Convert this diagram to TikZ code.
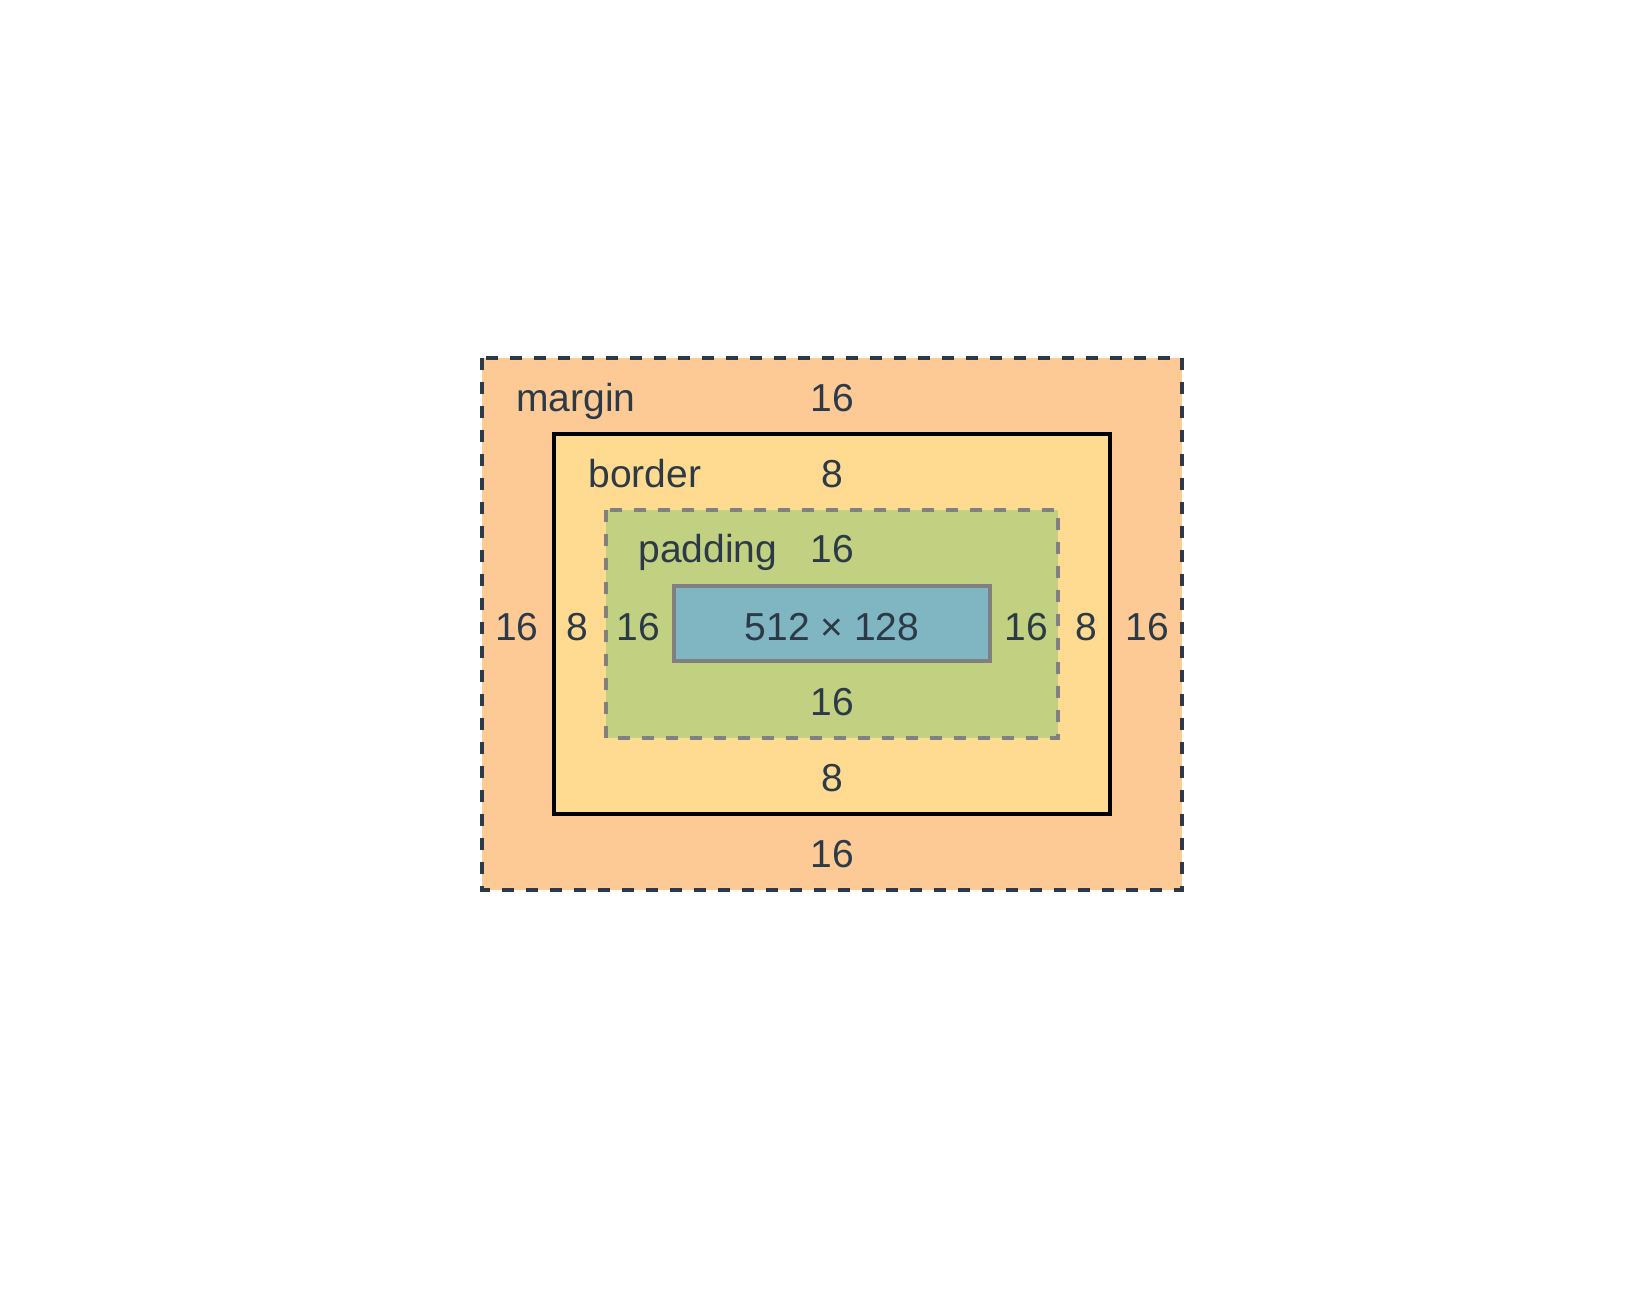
\documentclass[tikz,border=0pt]{standalone}
\usepackage{fontspec}
\setmainfont{Liberation Sans}
\definecolor{marginc}{HTML}{FDCA96}
\definecolor{borderc}{HTML}{FFDB91}
\definecolor{paddingc}{HTML}{C1D081}
\definecolor{contentc}{HTML}{80B5C2}
\definecolor{txt}{HTML}{2C3A47}
\definecolor{grayline}{HTML}{808080}
\begin{document}
\begin{tikzpicture}[x=0.5pt,y=-0.5pt,
  marginbox/.style={fill=marginc,draw=txt,line width=2pt,dash pattern=on 6pt off 6pt},
  borderbox/.style={fill=borderc,draw=black,line width=2pt},
  paddingbox/.style={fill=paddingc,draw=grayline,line width=2pt,dash pattern=on 6pt off 6pt},
  contentbox/.style={fill=contentc,draw=grayline,line width=2pt},
  lbl/.style={inner sep=0pt,text=txt,font=\fontsize{19.5pt}{23pt}\selectfont}]
\useasboundingbox (0,0) rectangle (1644,1312);
\fill[white] (0,0) rectangle (1644,1312);
\draw[marginbox] (482,358) rectangle (1182,890);
\draw[borderbox] (554,434) rectangle (1110,814);
\draw[paddingbox] (606,510) rectangle (1058,738);
\draw[contentbox] (674,586) rectangle (990,661);
% labels
\node[lbl,anchor=base west] (lmargin) at (516,411) {margin};
\node[lbl,anchor=base west] (lborder) at (588,487) {border};
\node[lbl,anchor=base west] (lpadding) at (638,562) {padding};
\node[lbl,anchor=base] (mt) at (832,411) {16};
\node[lbl,anchor=base] (bt) at (832,487) {8};
\node[lbl,anchor=base] (pt) at (832,562) {16};
\node[lbl,anchor=base] (content) at (832,640) {512 × 128};
\node[lbl,anchor=base] (pb) at (832,715) {16};
\node[lbl,anchor=base] (bb) at (832,791) {8};
\node[lbl,anchor=base] (mb) at (832,867) {16};
\node[lbl,anchor=base] (ml) at (517,640) {16};
\node[lbl,anchor=base] (bl) at (577,640) {8};
\node[lbl,anchor=base] (pl) at (638,640) {16};
\node[lbl,anchor=base] (pr) at (1026,640) {16};
\node[lbl,anchor=base] (br) at (1086,640) {8};
\node[lbl,anchor=base] (mr) at (1147,640) {16};
\end{tikzpicture}
\end{document}
